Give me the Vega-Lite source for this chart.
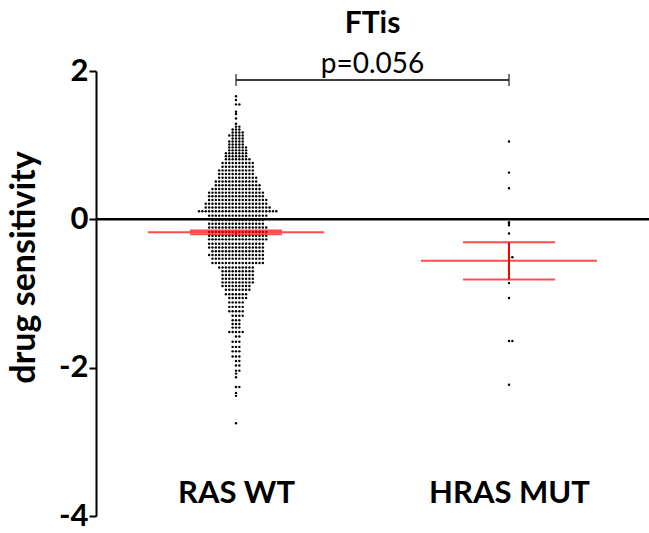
{
  "$schema": "https://vega.github.io/schema/vega-lite/v6.json",
  "autosize": "none",
  "width": 553,
  "height": 445,
  "padding": {"left": 96, "top": 71, "right": 0, "bottom": 17},
  "background": "white",
  "config": {"font": "Lato", "view": {"stroke": null}},
  "title": {
    "text": "FTis",
    "subtitle": "p=0.056",
    "font": "Lato",
    "fontSize": 30,
    "fontWeight": "bold",
    "color": "black",
    "subtitleFont": "Lato",
    "subtitleFontSize": 28,
    "subtitleFontWeight": "normal",
    "subtitleColor": "black",
    "anchor": "middle",
    "frame": "group",
    "offset": -24,
    "subtitlePadding": 12
  },
  "layer": [
    {
      "data": {"values": [{}]},
      "mark": {"type": "rule", "strokeWidth": 2.5, "color": "black"},
      "encoding": {"y": {"datum": 0, "type": "quantitative", "scale": {"domain": [-4, 2], "nice": false, "zero": false}}}
    },
    {
      "data": {"values": [
        1.66,1.61,1.55,1.55,1.45,1.42,1.36,1.29,1.25,1.25,
        1.21,1.21,1.21,
        1.17,1.17,1.17,1.17,
        1.13,1.13,1.13,1.13,1.13,
        1.09,1.09,1.09,1.09,
        1.05,1.05,1.05,1.05,1.05,
        1.01,1.01,1.01,1.01,1.01,
        0.97,0.97,0.97,0.97,0.97,0.97,
        0.93,0.93,0.93,0.93,0.93,0.93,
        0.89,0.89,0.89,0.89,0.89,0.89,0.89,
        0.85,0.85,0.85,0.85,0.85,0.85,0.85,
        0.81,0.81,0.81,0.81,0.81,0.81,0.81,0.81,
        0.76,0.76,0.76,0.76,0.76,0.76,0.76,0.76,0.76,0.76,
        0.71,0.71,0.71,0.71,0.71,0.71,0.71,0.71,0.71,0.71,
        0.66,0.66,0.66,0.66,0.66,0.66,0.66,0.66,0.66,0.66,0.66,
        0.61,0.61,0.61,0.61,0.61,0.61,0.61,0.61,0.61,0.61,0.61,
        0.56,0.56,0.56,0.56,0.56,0.56,0.56,0.56,0.56,0.56,0.56,0.56,
        0.51,0.51,0.51,0.51,0.51,0.51,0.51,0.51,0.51,0.51,0.51,0.51,0.51,
        0.46,0.46,0.46,0.46,0.46,0.46,0.46,0.46,0.46,0.46,0.46,0.46,0.46,0.46,
        0.41,0.41,0.41,0.41,0.41,0.41,0.41,0.41,0.41,0.41,0.41,0.41,0.41,0.41,0.41,
        0.36,0.36,0.36,0.36,0.36,0.36,0.36,0.36,0.36,0.36,0.36,0.36,0.36,0.36,0.36,0.36,0.36,
        0.31,0.31,0.31,0.31,0.31,0.31,0.31,0.31,0.31,0.31,0.31,0.31,0.31,0.31,0.31,0.31,0.31,
        0.26,0.26,0.26,0.26,0.26,0.26,0.26,0.26,0.26,0.26,0.26,0.26,0.26,0.26,0.26,0.26,0.26,0.26,
        0.21,0.21,0.21,0.21,0.21,0.21,0.21,0.21,0.21,0.21,0.21,0.21,0.21,0.21,0.21,0.21,0.21,0.21,0.21,
        0.16,0.16,0.16,0.16,0.16,0.16,0.16,0.16,0.16,0.16,0.16,0.16,0.16,0.16,0.16,0.16,0.16,0.16,0.16,0.16,
        0.11,0.11,0.11,0.11,0.11,0.11,0.11,0.11,0.11,0.11,0.11,0.11,0.11,0.11,0.11,0.11,0.11,0.11,0.11,0.11,0.11,0.11,0.11,0.11,
        0.05,0.05,0.05,0.05,0.05,0.05,0.05,0.05,0.05,0.05,0.05,0.05,0.05,0.05,0.05,0.05,0.05,0.05,
        -0.01,-0.01,-0.01,-0.01,-0.01,-0.01,-0.01,-0.01,-0.01,-0.01,-0.01,-0.01,-0.01,-0.01,-0.01,-0.01,
        -0.06,-0.06,-0.06,-0.06,-0.06,-0.06,-0.06,-0.06,-0.06,-0.06,-0.06,-0.06,-0.06,-0.06,-0.06,-0.06,-0.06,
        -0.11,-0.11,-0.11,-0.11,-0.11,-0.11,-0.11,-0.11,-0.11,-0.11,-0.11,-0.11,-0.11,-0.11,-0.11,-0.11,-0.11,-0.11,
        -0.17,-0.17,-0.17,-0.17,-0.17,-0.17,-0.17,-0.17,-0.17,-0.17,-0.17,-0.17,-0.17,-0.17,-0.17,-0.17,-0.17,-0.17,
        -0.22,-0.22,-0.22,-0.22,-0.22,-0.22,-0.22,-0.22,-0.22,-0.22,-0.22,-0.22,-0.22,-0.22,-0.22,-0.22,-0.22,-0.22,
        -0.27,-0.27,-0.27,-0.27,-0.27,-0.27,-0.27,-0.27,-0.27,-0.27,-0.27,-0.27,-0.27,-0.27,-0.27,-0.27,-0.27,-0.27,
        -0.33,-0.33,-0.33,-0.33,-0.33,-0.33,-0.33,-0.33,-0.33,-0.33,-0.33,-0.33,-0.33,-0.33,-0.33,-0.33,-0.33,
        -0.38,-0.38,-0.38,-0.38,-0.38,-0.38,-0.38,-0.38,-0.38,-0.38,-0.38,-0.38,-0.38,-0.38,-0.38,-0.38,-0.38,
        -0.43,-0.43,-0.43,-0.43,-0.43,-0.43,-0.43,-0.43,-0.43,-0.43,-0.43,-0.43,-0.43,-0.43,-0.43,-0.43,
        -0.48,-0.48,-0.48,-0.48,-0.48,-0.48,-0.48,-0.48,-0.48,-0.48,-0.48,-0.48,-0.48,-0.48,-0.48,-0.48,-0.48,
        -0.53,-0.53,-0.53,-0.53,-0.53,-0.53,-0.53,-0.53,-0.53,-0.53,-0.53,-0.53,-0.53,-0.53,-0.53,-0.53,
        -0.59,-0.59,-0.59,-0.59,-0.59,-0.59,-0.59,-0.59,-0.59,-0.59,-0.59,-0.59,-0.59,-0.59,-0.59,-0.59,
        -0.65,-0.65,-0.65,-0.65,-0.65,-0.65,-0.65,-0.65,-0.65,-0.65,-0.65,
        -0.7,-0.7,-0.7,-0.7,-0.7,-0.7,-0.7,-0.7,-0.7,-0.7,
        -0.75,-0.75,-0.75,-0.75,-0.75,-0.75,-0.75,-0.75,-0.75,-0.75,
        -0.8,-0.8,-0.8,-0.8,-0.8,-0.8,-0.8,-0.8,-0.8,-0.8,
        -0.85,-0.85,-0.85,-0.85,-0.85,-0.85,-0.85,-0.85,-0.85,-0.85,
        -0.9,-0.9,-0.9,-0.9,-0.9,-0.9,-0.9,-0.9,-0.9,
        -0.95,-0.95,-0.95,-0.95,-0.95,-0.95,-0.95,-0.95,
        -1.01,-1.01,-1.01,-1.01,-1.01,-1.01,-1.01,
        -1.06,-1.06,-1.06,-1.06,-1.06,-1.06,
        -1.12,-1.12,-1.12,-1.12,-1.12,
        -1.18,-1.18,-1.18,-1.18,-1.18,
        -1.24,-1.24,-1.24,-1.24,-1.24,
        -1.3,-1.3,-1.3,-1.3,
        -1.36,-1.36,-1.36,
        -1.41,-1.41,-1.41,
        -1.46,-1.46,-1.46,
        -1.52,-1.52,-1.52,-1.52,-1.52,
        -1.58,-1.58,
        -1.65,-1.65,-1.65,
        -1.72,-1.72,-1.72,
        -1.78,-1.78,-1.78,
        -1.85,-1.85,-1.85,
        -1.91,-1.91,
        -1.97,-1.97,
        -2.04,-2.04,
        -2.08,-2.13,-2.26,-2.26,-2.34,-2.38,-2.75
      ]},
      "transform": [{"window": [{"op": "row_number", "as": "rank"}], "groupby": ["data"]}],
      "mark": {"type": "circle", "size": 6, "color": "black", "opacity": 1},
      "encoding": {
        "x": {
          "datum": "RAS WT",
          "type": "nominal",
          "scale": {"type": "point", "domain": ["RAS WT", "HRAS MUT"], "range": [140, 413], "padding": 0},
          "axis": {
            "title": null, "orient": "bottom", "offset": -38, "domain": false, "ticks": false,
            "labelFont": "Lato", "labelFontSize": 31, "labelFontWeight": "bold", "labelColor": "black",
            "labelPadding": 0, "labelAngle": 0
          }
        },
        "xOffset": {
          "field": "rank",
          "type": "ordinal",
          "scale": {"type": "point", "domain": [25,23,21,19,17,15,13,11,9,7,5,3,1,2,4,6,8,10,12,14,16,18,20,22,24], "range": [-42, 42]}
        },
        "y": {
          "field": "data",
          "type": "quantitative",
          "scale": {"domain": [-4, 2], "nice": false, "zero": false},
          "axis": {
            "title": "drug sensitivity", "values": [-4, -2, 0, 2], "grid": false,
            "labelExpr": "datum.value + ''",
            "domainColor": "black", "domainWidth": 2, "tickColor": "black", "tickWidth": 2, "tickSize": 7,
            "labelFont": "Lato", "labelFontSize": 31, "labelFontWeight": "bold", "labelColor": "black", "labelPadding": 1,
            "titleFont": "Lato", "titleFontSize": 34, "titleFontWeight": "bold", "titleColor": "black",
            "titlePadding": 17, "titleY": 196
          }
        }
      }
    },
    {
      "data": {"values": [1.05, 0.63, 0.42, -0.04, -0.06, -0.08, -0.19, -0.51, -0.51, -0.86, -1.06, -1.64, -1.64, -2.23]},
      "transform": [{"window": [{"op": "row_number", "as": "rank"}], "groupby": ["data"]}],
      "mark": {"type": "circle", "size": 6, "color": "black", "opacity": 1},
      "encoding": {
        "x": {"datum": "HRAS MUT", "type": "nominal", "scale": {"type": "point", "domain": ["RAS WT", "HRAS MUT"], "range": [140, 413], "padding": 0}},
        "xOffset": {
          "field": "rank",
          "type": "ordinal",
          "scale": {"type": "point", "domain": [25,23,21,19,17,15,13,11,9,7,5,3,1,2,4,6,8,10,12,14,16,18,20,22,24], "range": [-42, 42]}
        },
        "y": {"field": "data", "type": "quantitative"}
      }
    },
    {
      "data": {"values": [
        {"g": "RAS WT", "m": -0.175, "lo": -0.2, "hi": -0.15},
        {"g": "HRAS MUT", "m": -0.56, "lo": -0.81, "hi": -0.31}
      ]},
      "layer": [
        {
          "mark": {"type": "tick", "orient": "horizontal", "size": 176, "thickness": 2, "color": "#ff0000"},
          "encoding": {"x": {"field": "g", "type": "nominal"}, "y": {"field": "m", "type": "quantitative"}}
        },
        {
          "mark": {"type": "tick", "orient": "horizontal", "size": 92, "thickness": 2, "color": "#ff0000"},
          "encoding": {"x": {"field": "g", "type": "nominal"}, "y": {"field": "lo", "type": "quantitative"}}
        },
        {
          "mark": {"type": "tick", "orient": "horizontal", "size": 92, "thickness": 2, "color": "#ff0000"},
          "encoding": {"x": {"field": "g", "type": "nominal"}, "y": {"field": "hi", "type": "quantitative"}}
        },
        {
          "mark": {"type": "rule", "strokeWidth": 2, "color": "#ff0000"},
          "encoding": {"x": {"field": "g", "type": "nominal"}, "y": {"field": "lo", "type": "quantitative"}, "y2": {"field": "hi"}}
        },
        {
          "mark": {"type": "tick", "orient": "vertical", "size": 12, "thickness": 1.5, "color": "black"},
          "encoding": {"x": {"field": "g", "type": "nominal"}, "y": {"datum": 1.88, "type": "quantitative"}}
        }
      ]
    },
    {
      "data": {"values": [{}]},
      "mark": {"type": "rule", "strokeWidth": 1.5, "color": "black"},
      "encoding": {
        "x": {"datum": "RAS WT", "type": "nominal"},
        "x2": {"datum": "HRAS MUT"},
        "y": {"datum": 1.88, "type": "quantitative"}
      }
    }
  ]
}
